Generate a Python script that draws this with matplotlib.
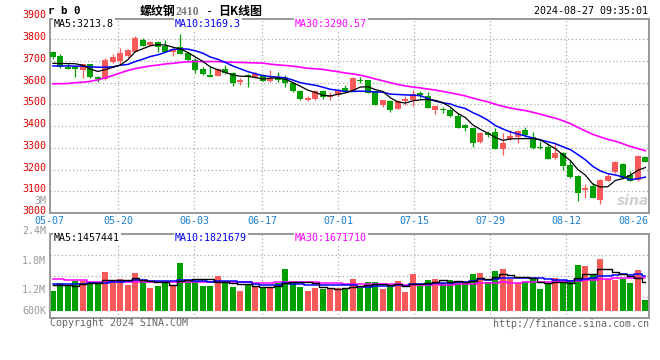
import numpy as np
import pandas as pd
import matplotlib
matplotlib.use('Agg')
import matplotlib.pyplot as plt

# ---------------- data ----------------
opens = [3739, 3723, 3674, 3674, 3659, 3685, 3628, 3617, 3697, 3700,
         3723, 3743, 3795, 3774, 3789, 3769, 3743, 3763, 3736, 3702,
         3665, 3636, 3632, 3664, 3644, 3601, 3633, 3624, 3636, 3606,
         3621, 3616, 3598, 3560, 3521, 3526, 3563, 3532, 3544, 3575,
         3563, 3613, 3610, 3560, 3498, 3514, 3480, 3514, 3518, 3552,
         3540, 3475, 3477, 3474, 3448, 3405, 3390, 3329, 3370, 3371,
         3295, 3341, 3351, 3382, 3351, 3304, 3306, 3252, 3275, 3221,
         3172, 3104, 3122, 3061, 3148, 3188, 3226, 3175, 3152, 3260]
highs = [3748, 3730, 3690, 3676, 3687, 3687, 3631, 3712, 3731, 3759,
         3755, 3815, 3805, 3790, 3792, 3797, 3758, 3823, 3740, 3712,
         3671, 3670, 3668, 3680, 3648, 3620, 3641, 3651, 3640, 3656,
         3650, 3636, 3605, 3565, 3540, 3568, 3568, 3555, 3571, 3587,
         3625, 3624, 3613, 3562, 3521, 3518, 3518, 3540, 3567, 3560,
         3559, 3497, 3490, 3482, 3459, 3410, 3395, 3375, 3379, 3389,
         3367, 3382, 3382, 3394, 3374, 3333, 3321, 3321, 3282, 3244,
         3176, 3134, 3140, 3157, 3180, 3240, 3232, 3195, 3267, 3262]
lows = [3711, 3667, 3663, 3624, 3621, 3621, 3605, 3612, 3692, 3688,
        3720, 3740, 3767, 3770, 3743, 3740, 3723, 3730, 3700, 3643,
        3636, 3626, 3630, 3640, 3586, 3590, 3580, 3622, 3606, 3602,
        3601, 3580, 3558, 3521, 3516, 3521, 3526, 3518, 3540, 3556,
        3560, 3598, 3552, 3498, 3490, 3467, 3478, 3497, 3492, 3530,
        3483, 3455, 3462, 3440, 3393, 3379, 3306, 3322, 3349, 3295,
        3267, 3336, 3322, 3352, 3293, 3296, 3247, 3249, 3198, 3160,
        3053, 3067, 3071, 3041, 3145, 3185, 3160, 3149, 3145, 3237]
closes = [3717, 3670, 3665, 3662, 3685, 3628, 3619, 3705, 3716, 3737,
          3751, 3805, 3771, 3786, 3762, 3743, 3754, 3733, 3702, 3659,
          3641, 3628, 3665, 3644, 3598, 3613, 3624, 3639, 3609, 3621,
          3613, 3598, 3560, 3526, 3529, 3563, 3532, 3544, 3564, 3560,
          3621, 3609, 3552, 3498, 3518, 3475, 3514, 3526, 3549, 3541,
          3483, 3494, 3472, 3448, 3393, 3390, 3324, 3370, 3359, 3295,
          3324, 3356, 3377, 3359, 3298, 3298, 3247, 3278, 3218, 3165,
          3094, 3117, 3071, 3152, 3171, 3237, 3160, 3149, 3264, 3237]
volumes = [1026, 1452, 1282, 1554, 1554, 1452, 1421, 2016, 1539, 1641,
           1334, 1965, 1539, 1180, 1298, 1421, 1298, 2478, 1539, 1539,
           1298, 1298, 1811, 1452, 1247, 1041, 1334, 1247, 1195, 1247,
           1452, 2155, 1452, 1247, 1041, 1195, 1113, 1195, 1195, 1113,
           1641, 1195, 1488, 1488, 1129, 1283, 1539, 975, 1898, 1283,
           1590, 1641, 1421, 1590, 1488, 1421, 1898, 1949, 1488, 2052,
           2155, 1641, 1436, 1488, 1641, 1129, 1436, 1693, 1421, 1590,
           2360, 2308, 1847, 2668, 1641, 1590, 1641, 1436, 2103, 564]  # thousands

# moving-average values before enough bars are visible
ma5_head = [3689, 3688, 3688, 3687]
ma10_head = [3677, 3677, 3677, 3676, 3676, 3673, 3671, 3671, 3673]
ma30_head = [3595, 3595, 3596, 3600, 3602, 3606, 3613, 3622, 3633, 3645,
             3656, 3665, 3671, 3677, 3681, 3686, 3689, 3693, 3696, 3697,
             3697, 3697, 3697, 3695, 3694, 3693, 3692, 3691, 3690]
vma5_head = [1340, 1330, 1310, 1300]
vma10_head = [1385, 1385, 1385, 1385, 1400, 1420, 1440, 1450, 1470]
vma30_head = [1630, 1630, 1580, 1580, 1580, 1500, 1500, 1500, 1500, 1500,
              1500, 1500, 1500, 1500, 1500, 1470, 1470, 1470, 1470, 1470,
              1470, 1470, 1470, 1470, 1470, 1470, 1470, 1420, 1420]

tick_idx = [0, 9, 19, 28, 38, 48, 58, 68, 78]
tick_labels = ['05-07', '05-20', '06-03', '06-17', '07-01', '07-15', '07-29', '08-12', '08-26']
price_ticks = [3000, 3100, 3200, 3300, 3400, 3500, 3600, 3700, 3800, 3900]
vol_tick_labels = ['3M', '2.4M', '1.8M', '1.2M', '600K']

legend_price = ['MA5:3213.8', 'MA10:3169.3', 'MA30:3290.57']
legend_vol = ['MA5:1457441', 'MA10:1821679', 'MA30:1671710']

# ---------------- helpers ----------------
def ma(vals, n, head):
    s = pd.Series(vals, dtype=float).rolling(n).mean().to_numpy()
    s[:n - 1] = head
    return s

W, H = 660, 360
def fx(px):
    return px / W
def fy(py):
    return 1 - py / H

MONO = 'DejaVu Sans Mono'
RED = '#f85a5a'
GREEN = '#00a000'
GRID = '#aaaaaa'
BORDER = '#999999'
BLUE_LBL = '#1a7fd0'

o = np.array(opens, float); h = np.array(highs, float)
l = np.array(lows, float); c = np.array(closes, float)
v = np.array(volumes, float)
n = len(c)
x = np.arange(n)
up = c >= o
cols = [RED if u else GREEN for u in up]

fig = plt.figure(figsize=(W / 100, H / 100), dpi=100)
fig.patch.set_facecolor('white')

ax = fig.add_axes([fx(50), fy(213), fx(599), 194 / H])
axv = fig.add_axes([fx(50), fy(318), fx(599), 84 / H])

xl = (-0.38, 79.49)
for a in (ax, axv):
    a.set_xlim(*xl)
    a.set_xticks([]); a.set_yticks([])
    for s in a.spines.values():
        s.set_color(BORDER)
        s.set_linewidth(1.4)

ax.set_ylim(3000, 3893)
axv.set_ylim(-359, 3950)

dot = (0, (1, 2))
# grid
grid_pos = [i * 80 / 79 - 0.42 for i in tick_idx]
for gp in grid_pos[1:-1]:
    ax.axvline(gp, color=GRID, lw=0.9, ls=dot, zorder=0)
    axv.axvline(gp, color=GRID, lw=0.9, ls=dot, zorder=0)
for pv in price_ticks[1:-1]:
    ax.axhline(pv, color=GRID, lw=0.9, ls=dot, zorder=0)
for fr in (0.25, 0.5, 0.75):
    axv.axhline(fr * 3950 + (1 - fr) * -359, color=GRID, lw=0.9, ls=dot, zorder=0)

# candles
ax.vlines(x, l, h, colors=cols, lw=0.9, zorder=2)
body_lo = np.minimum(o, c)
body_h = np.maximum(np.abs(c - o), 4.0)
ax.bar(x, body_h, bottom=body_lo, width=0.76, color=cols, lw=0, zorder=3)

# moving averages
ma5 = ma(c, 5, ma5_head)
ma10 = ma(c, 10, ma10_head)
ma30 = ma(c, 30, ma30_head)
ax.plot(x, ma30, color='#ff00ff', lw=1.2, zorder=4)
ax.plot(x, ma10, color='#0000ff', lw=1.1, zorder=4)
ax.plot(x, ma5, color='black', lw=0.9, zorder=5)

# volume
axv.bar(x, v, width=0.76, color=cols, lw=0, zorder=2)
vma5 = ma(v, 5, vma5_head)
vma10 = ma(v, 10, vma10_head)
vma30 = ma(v, 30, vma30_head)
axv.plot(x, vma30, color='#ff00ff', lw=1.1, drawstyle='steps-mid', zorder=3)
axv.plot(x, vma10, color='#0000ff', lw=1.1, drawstyle='steps-mid', zorder=3)
axv.plot(x, vma5, color='black', lw=1.0, drawstyle='steps-mid', zorder=4)

# price labels
for pv in price_ticks:
    ax.annotate(str(pv), xy=(0, pv), xycoords=('axes fraction', 'data'),
                xytext=(-4, 2), textcoords='offset pixels', ha='right', va='center',
                color='#e00000', fontsize=7.2, family=MONO, annotation_clip=False)

# x labels
for k, (gp, lab) in enumerate(zip(grid_pos, tick_labels)):
    if k == len(tick_labels) - 1:
        fig.text(fx(648), fy(221.5), lab, ha='right', va='center', color=BLUE_LBL,
                 fontsize=7.2, family=MONO)
    else:
        ax.annotate(lab, xy=(gp, 0), xycoords=('data', 'axes fraction'),
                    xytext=(0, -8.5), textcoords='offset pixels', ha='center', va='center',
                    color=BLUE_LBL, fontsize=7.2, family=MONO, annotation_clip=False)

# volume labels
for lab, py in zip(vol_tick_labels, [201, 231, 261, 290, 311]):
    fig.text(fx(46), fy(py), lab, ha='right', va='center', color='#999999',
             fontsize=7.2, family=MONO)

# legends
bb = dict(facecolor='white', edgecolor='none', pad=0.6)
lcols = ['black', '#0000ee', '#ff00ff']
for lab, col, px in zip(legend_price, lcols, [54, 175, 295]):
    fig.text(fx(px), fy(24), lab, ha='left', va='center', color=col,
             fontsize=7.2, family=MONO, bbox=bb)
for lab, col, px in zip(legend_vol, lcols, [54, 175, 295]):
    fig.text(fx(px), fy(238), lab, ha='left', va='center', color=col,
             fontsize=7.2, family=MONO, bbox=bb)

# header
fig.text(fx(48), fy(11.5), 'r b 0', ha='left', va='center', fontsize=7.8,
         family=MONO, weight='bold', color='black')
fig.text(fx(140), fy(11.5), '螺纹钢', ha='left', va='center', fontsize=8.6,
         family=['Noto Sans CJK SC', 'DejaVu Sans'], weight='bold', color='black')
fig.text(fx(176), fy(11.8), '2410', ha='left', va='center', fontsize=8.6,
         family='Liberation Serif', weight='bold', color='#777777')
fig.text(fx(206), fy(11.5), '-', ha='left', va='center', fontsize=8.6,
         family=MONO, color='black')
fig.text(fx(218), fy(11.5), '日K线图', ha='left', va='center', fontsize=8.6,
         family=['Noto Sans CJK SC', 'DejaVu Sans'], weight='bold', color='black')
fig.text(fx(648), fy(11.5), '2024-08-27 09:35:01', ha='right', va='center',
         fontsize=7.2, family=MONO, color='black')

# footer
fig.text(fx(50), fy(323.5), 'Copyright 2024 SINA.COM', ha='left', va='center',
         fontsize=7.2, family=MONO, color='#666666')
fig.text(fx(649), fy(324), 'http://finance.sina.com.cn', ha='right', va='center',
         fontsize=7.2, family=MONO, color='#666666')

# watermark
fig.text(fx(633), fy(201), 'sina', ha='center', va='center', fontsize=10,
         style='italic', weight='bold', color='#d0d0d0', family='DejaVu Sans', zorder=1)

fig.savefig('out.png', dpi=100, facecolor='white')
